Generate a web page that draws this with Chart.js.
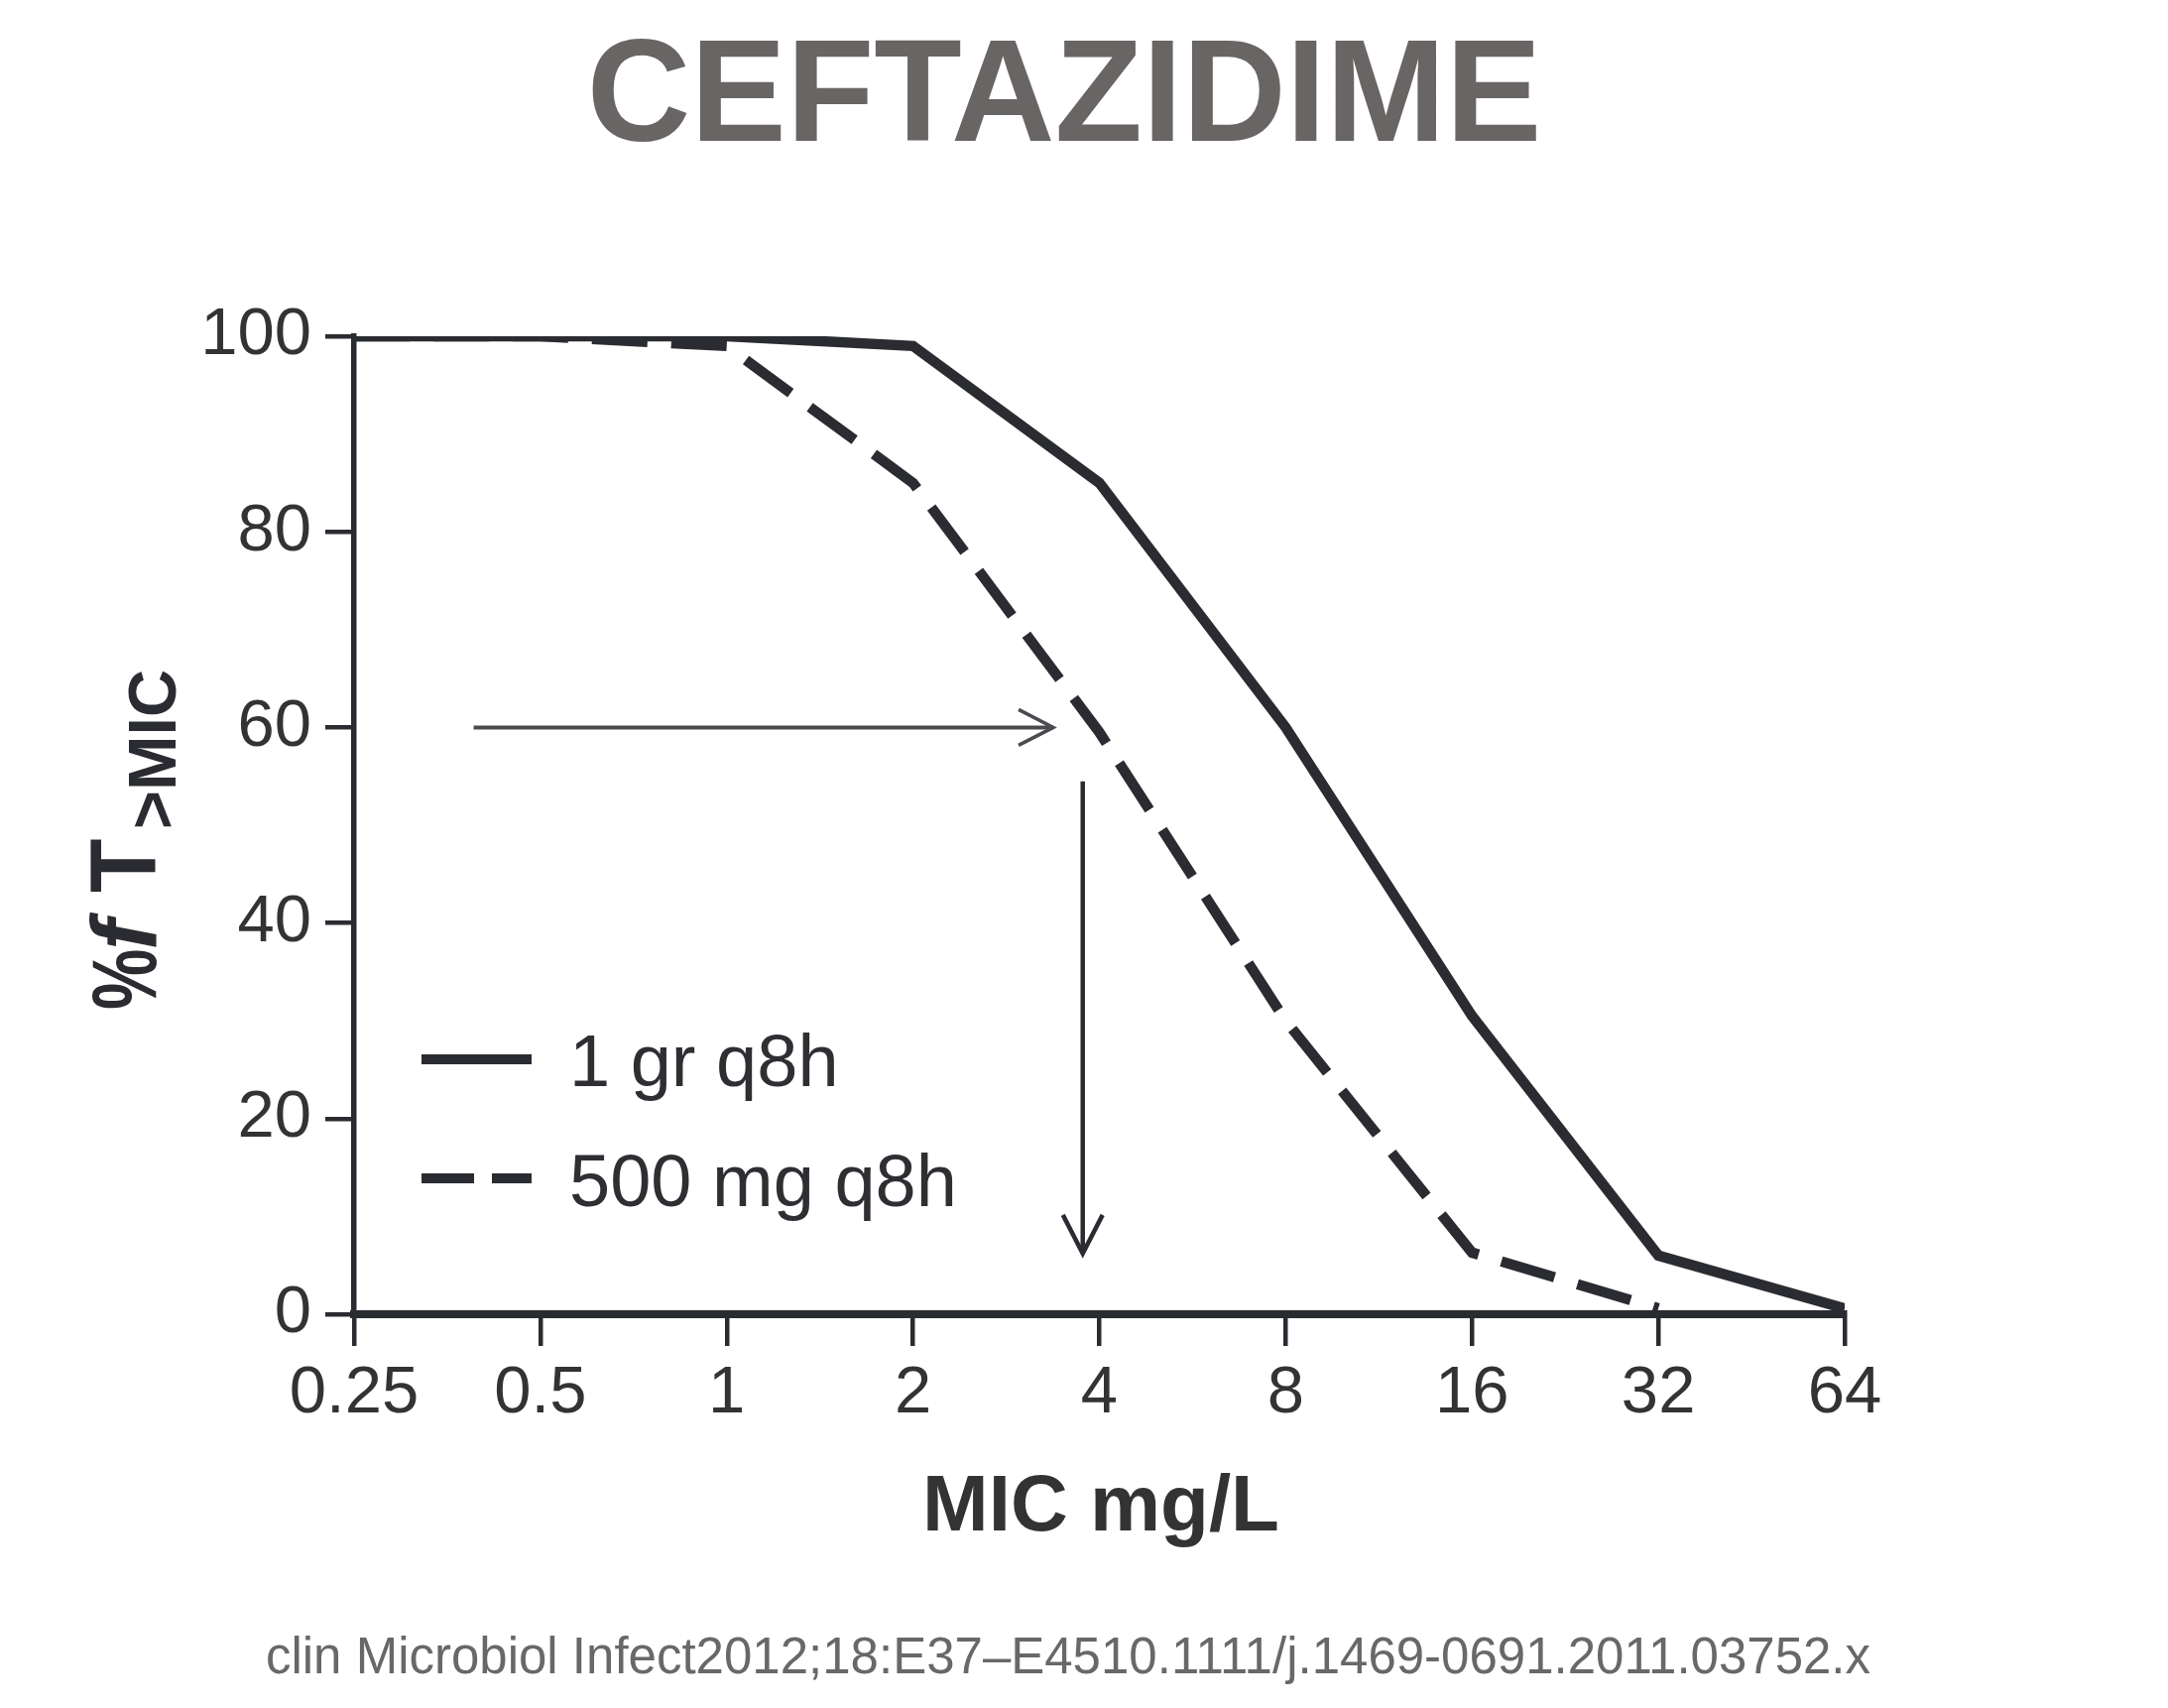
<!DOCTYPE html>
<html><head><meta charset="utf-8">
<script src="https://cdn.jsdelivr.net/npm/chart.js@4.4.0/dist/chart.umd.min.js"></script>
<style>html,body{margin:0;padding:0;background:#fff;overflow:hidden}#wrap{width:2186px;height:1722px}</style>
</head><body><div id="wrap"><canvas id="c" width="2186" height="1722"></canvas></div>
<script>
const micValues = [0.25, 0.5, 1, 2, 4, 8, 16, 32, 64];
const tickLabels = ['0.25', '0.5', '1', '2', '4', '8', '16', '32', '64'];
const yTicks = [0, 20, 40, 60, 80, 100];
const series1Name = '1 gr q8h';
const series1 = [100, 100, 100, 99, 85, 60, 30.5, 6, 0.6];
const series2Name = '500 mg q8h';
const series2 = [100, 100, 99, 85, 59.5, 30, 6.3, 0.6];
const arrowH = { x0: 0.39, x1: 3.37, y: 60 };
const arrowV = { x: 3.76, y0: 54.5, y1: 6.2 };
const titleText = 'CEFTAZIDIME';
const xTitle = 'MIC mg/L';
const caption = 'clin Microbiol Infect2012;18:E37\u2013E4510.1111/j.1469-0691.2011.03752.x';

const INK = '#2b2c31';
const FONT = '"Liberation Sans", Arial, Helvetica, sans-serif';

const toPoints = arr => arr.map((v, i) => ({ x: micValues[i], y: v }));

const annot = {
  id: 'annot',
  afterDraw(chart) {
    const ctx = chart.ctx, xs = chart.scales.x, ys = chart.scales.y;
    ctx.save();
    // title
    ctx.fillStyle = '#686564';
    ctx.font = 'bold 147px ' + FONT;
    ctx.textAlign = 'center'; ctx.textBaseline = 'alphabetic';
    ctx.save(); ctx.translate(1073, 142); ctx.scale(0.985, 1); ctx.fillText(titleText, 0, 0); ctx.restore();
    // x title
    ctx.fillStyle = '#333';
    ctx.font = 'bold 80px ' + FONT;
    ctx.fillText(xTitle, 1110, 1543);
    // caption
    ctx.fillStyle = '#6a6767';
    ctx.font = '51px ' + FONT;
    ctx.fillText(caption, 1077, 1687);
    // y title
    ctx.save();
    ctx.translate(157, 1016); ctx.rotate(-Math.PI / 2);
    ctx.textAlign = 'left'; ctx.fillStyle = INK;
    const piece = (t, f, x, y, sx) => { ctx.save(); ctx.translate(x, y); ctx.scale(sx, 1); ctx.font = f; ctx.fillText(t, 0, 0); ctx.restore(); };
    piece('%', 'bold 92px ' + FONT, -2, 0, 0.75);
    piece('f', 'italic bold 92px ' + FONT, 58, 0, 1.0);
    piece('T', 'bold 94px ' + FONT, 116, 0, 0.95);
    piece('>MIC', 'bold 68px ' + FONT, 180, 20, 0.98);
    ctx.restore();
    // legend
    const ds = chart.data.datasets;
    const rows = [1068, 1188], base = [1095, 1216];
    ds.forEach((d, i) => {
      ctx.strokeStyle = d.borderColor; ctx.lineWidth = 10; ctx.lineCap = 'butt';
      ctx.setLineDash(i === 1 ? [53, 18] : []);
      ctx.beginPath(); ctx.moveTo(425, rows[i]); ctx.lineTo(536, rows[i]); ctx.stroke();
      ctx.setLineDash([]);
      ctx.fillStyle = '#2e2e33'; ctx.font = '74px ' + FONT; ctx.textAlign = 'left';
      ctx.fillText(d.label, 574, base[i]);
    });
    // arrows
    const hx0 = xs.getPixelForValue(arrowH.x0), hx1 = xs.getPixelForValue(arrowH.x1), hy = ys.getPixelForValue(arrowH.y);
    ctx.strokeStyle = '#4a4a4f'; ctx.lineWidth = 4; ctx.lineJoin = 'miter';
    ctx.beginPath(); ctx.moveTo(hx0, hy); ctx.lineTo(hx1, hy); ctx.stroke();
    ctx.lineWidth = 3.5;
    ctx.beginPath(); ctx.moveTo(hx1 - 35, hy - 18); ctx.lineTo(hx1, hy); ctx.lineTo(hx1 - 35, hy + 18); ctx.stroke();
    const vx = xs.getPixelForValue(arrowV.x), vy0 = ys.getPixelForValue(arrowV.y0), vy1 = ys.getPixelForValue(arrowV.y1);
    ctx.strokeStyle = INK; ctx.lineWidth = 4.5;
    ctx.beginPath(); ctx.moveTo(vx, vy0); ctx.lineTo(vx, vy1); ctx.stroke();
    ctx.beginPath(); ctx.moveTo(vx - 20, vy1 - 39); ctx.lineTo(vx, vy1); ctx.lineTo(vx + 20, vy1 - 39); ctx.stroke();
    ctx.restore();
  }
};

new Chart(document.getElementById('c'), {
  type: 'line',
  data: {
    datasets: [
      { label: series1Name, data: toPoints(series1), borderColor: INK, borderWidth: 10.5, pointRadius: 0, tension: 0, fill: false },
      { label: series2Name, data: toPoints(series2), borderColor: INK, borderWidth: 10.5, borderDash: [56, 24], pointRadius: 0, tension: 0, fill: false }
    ]
  },
  options: {
    responsive: false, animation: false, devicePixelRatio: 1,
    layout: { padding: { left: 0, right: 326, top: 339, bottom: 0 } },
    plugins: { legend: { display: false }, title: { display: false }, tooltip: { enabled: false } },
    scales: {
      x: {
        type: 'logarithmic', min: 0.25, max: 64,
        afterBuildTicks: s => { s.ticks = micValues.map(v => ({ value: v })); },
        afterFit: s => { s.height = 397; },
        ticks: { autoSkip: false, maxRotation: 0, padding: 8, color: '#333', font: { size: 67, family: FONT }, callback: (v, i) => tickLabels[i] },
        grid: { drawOnChartArea: false, drawTicks: true, tickLength: 32, lineWidth: 4.5, color: INK },
        border: { display: true, width: 8, color: INK }
      },
      y: {
        type: 'linear', min: 0, max: 100,
        afterBuildTicks: s => { s.ticks = yTicks.map(v => ({ value: v })); },
        afterFit: s => { s.width = 357; },
        ticks: { padding: 14, color: '#333', font: { size: 67, family: FONT }, callback: v => String(v) },
        grid: { drawOnChartArea: false, drawTicks: true, tickLength: 29, lineWidth: 4.5, color: INK },
        border: { display: true, width: 5.5, color: INK }
      }
    }
  },
  plugins: [annot]
});
</script></body></html>
